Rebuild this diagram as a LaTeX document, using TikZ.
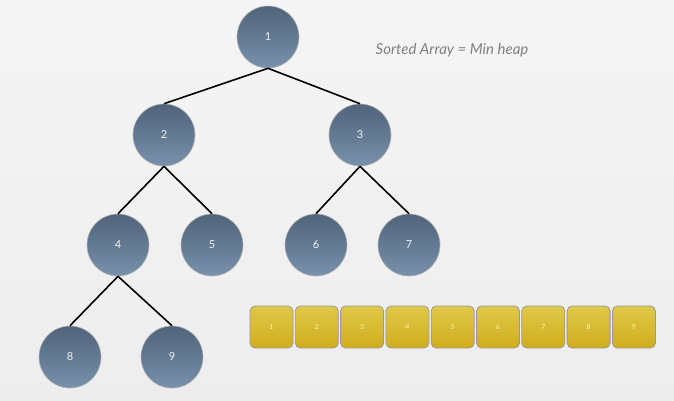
\documentclass[tikz,border=0pt]{standalone}
\usepackage{fontspec}
\setmainfont{Lato}
\begin{document}
\begin{tikzpicture}[x=1pt,y=-1pt,
  hnode/.style={circle,minimum size=62pt,inner sep=0pt,draw=gray!60,line width=0.6pt,
    top color={rgb,255:red,80;green,99;blue,122},bottom color={rgb,255:red,120;green,145;blue,172},
    text=white!90!gray,font=\fontsize{11}{11}\selectfont},
  cell/.style={rounded corners=5pt,minimum width=43pt,minimum height=42pt,inner sep=0pt,
    draw=gray!80,line width=0.8pt,top color={rgb,255:red,222;green,201;blue,75},bottom color={rgb,255:red,210;green,172;blue,28},
    text=yellow!35!white,font=\fontsize{7}{7}\selectfont},
  edge/.style={line width=1.6pt,black}]
\path[top color=gray!8,bottom color=gray!14] (0,0) rectangle (674,400);
\useasboundingbox (0,0) rectangle (674,400);
\node[hnode] (n1) at (268,37) {1};
\node[hnode] (n2) at (164,135) {2};
\node[hnode] (n3) at (360,135) {3};
\node[hnode] (n4) at (118,245) {4};
\node[hnode] (n5) at (212,245) {5};
\node[hnode] (n6) at (316,245) {6};
\node[hnode] (n7) at (409,245) {7};
\node[hnode] (n8) at (70,357) {8};
\node[hnode] (n9) at (172,357) {9};
\draw[edge] (n1.south) -- (n2.north);
\draw[edge] (n1.south) -- (n3.north);
\draw[edge] (n2.south) -- (n4.north);
\draw[edge] (n2.south) -- (n5.north);
\draw[edge] (n3.south) -- (n6.north);
\draw[edge] (n3.south) -- (n7.north);
\draw[edge] (n4.south) -- (n8.north);
\draw[edge] (n4.south) -- (n9.north);
\foreach \i in {1,...,9}{
  \node[cell] (c\i) at ({271.5+(\i-1)*45.3},327) {\i};
}
\node[text=gray,font=\itshape\fontsize{15}{15}\selectfont] (title) at (452,50) {Sorted Array = Min heap};
\end{tikzpicture}
\end{document}
